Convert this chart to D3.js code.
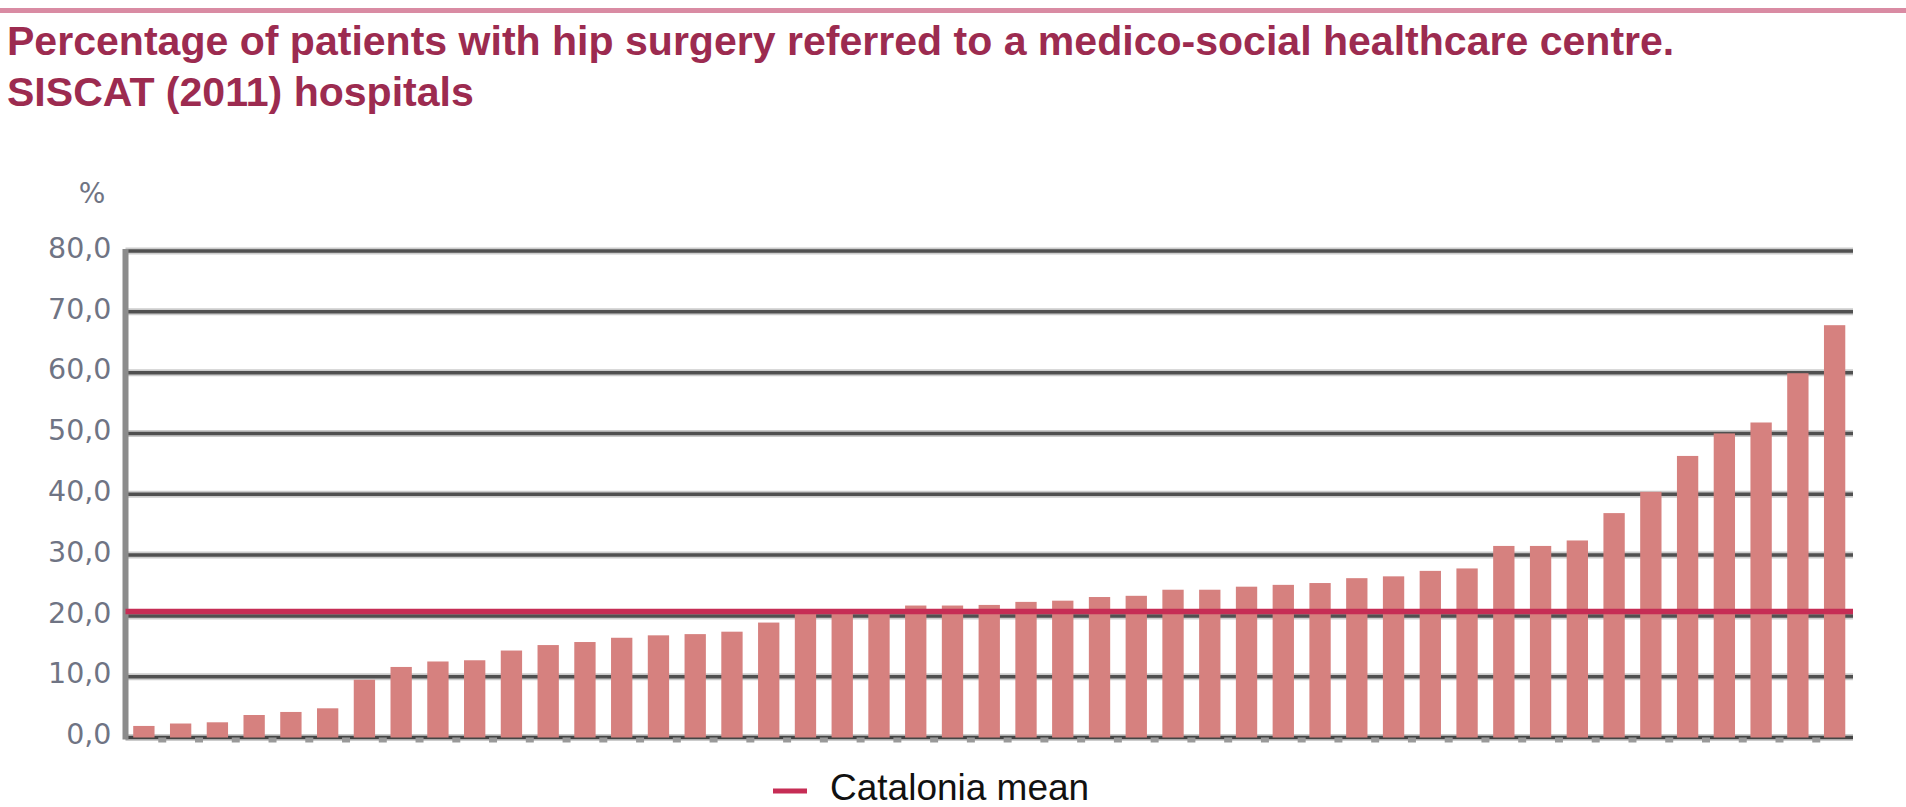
<!DOCTYPE html>
<html>
<head>
<meta charset="utf-8">
<script src="https://cdn.jsdelivr.net/npm/d3@7"></script>
<style>
  body { margin: 0; background: #fff; }
  svg { display: block; }
</style>
</head>
<body>
<div id="chart"></div>
<script>
// hospitals, sorted by share of hip surgery patients referred (%)
var hospitals = d3.range(1, 48).map(function(i) { return "H" + i; });
var referred = [1.9, 2.3, 2.5, 3.7, 4.2, 4.8, 9.5, 11.6, 12.5, 12.7,
                14.3, 15.2, 15.7, 16.4, 16.8, 17.0, 17.4, 18.9, 20.5, 21.0,
                21.0, 21.7, 21.7, 21.8, 22.3, 22.5, 23.1, 23.3, 24.3, 24.3,
                24.8, 25.1, 25.4, 26.2, 26.5, 27.4, 27.8, 31.5, 31.5, 32.4,
                36.9, 40.4, 46.3, 50.0, 51.8, 59.9, 67.8];
var catalonia_mean = 20.7;
var y_ticks = [0, 10, 20, 30, 40, 50, 60, 70, 80];
var y_tick_labels = ["0,0", "10,0", "20,0", "30,0", "40,0", "50,0", "60,0", "70,0", "80,0"];
var title_lines = ["Percentage of patients with hip surgery referred to a medico-social healthcare centre.",
                   "SISCAT (2011) hospitals"];
var legend_label = "Catalonia mean";

var width = 1906;
var height = 807;
var margin = {top: 251, right: 53, bottom: 69.5, left: 125.5};

var svg = d3.select("#chart")
    .append("svg")
    .attr("width", width)
    .attr("height", height);

// top rule + title
svg.append("line")
    .attr("x1", 0).attr("x2", width)
    .attr("y1", 10.5).attr("y2", 10.5)
    .attr("stroke", "#d98ba3")
    .attr("stroke-width", 5);

var title = svg.append("g");
title.selectAll("text")
    .data(title_lines)
    .enter()
    .append("text")
    .attr("x", 0)
    .attr("y", function(d, i) { return 55 + i * 51; })
    .attr("font-family", "'Liberation Sans', Arial, sans-serif")
    .attr("font-weight", "bold")
    .attr("font-size", 40)
    .attr("fill", "#9c2b50")
    .text(function(d) { return d; });
var tw = title.select("text").node().getComputedTextLength();
title.attr("transform", "translate(7,0) scale(" + (1668 / tw) + ",1)");

var x = d3.scaleBand()
    .domain(hospitals)
    .range([margin.left, width - margin.right])
    .paddingInner(0.42)
    .paddingOuter(0.21);
var y = d3.scaleLinear()
    .domain([0, 80])
    .range([height - margin.bottom, margin.top]);

// gridlines (halo + core)
var grid = svg.append("g");
grid.selectAll("line.halo")
    .data(y_ticks)
    .enter()
    .append("line")
    .attr("class", "halo")
    .attr("x1", margin.left).attr("x2", width - margin.right)
    .attr("y1", function(d) { return y(d); })
    .attr("y2", function(d) { return y(d); })
    .attr("stroke", "#cccccc")
    .attr("stroke-width", 7);
grid.selectAll("line.core")
    .data(y_ticks)
    .enter()
    .append("line")
    .attr("class", "core")
    .attr("x1", margin.left).attr("x2", width - margin.right)
    .attr("y1", function(d) { return y(d); })
    .attr("y2", function(d) { return y(d); })
    .attr("stroke", function(d) { return d == 0 ? "#444" : "#505050"; })
    .attr("stroke-width", 3.5);

// small ticks below the base line
svg.append("g")
    .selectAll("line")
    .data(hospitals.slice(1))
    .enter()
    .append("line")
    .attr("x1", function(d) { return x(d) - x.step() * 0.21; })
    .attr("x2", function(d) { return x(d) - x.step() * 0.21; })
    .attr("y1", y(0)).attr("y2", y(0) + 5)
    .attr("stroke", "#999")
    .attr("stroke-width", 8);

// y axis labels
var y_axis = d3.axisLeft(y)
    .tickValues(y_ticks)
    .tickSize(0)
    .tickPadding(14)
    .tickFormat(function(d, i) { return y_tick_labels[i]; });
var gy = svg.append("g")
    .attr("transform", "translate(" + margin.left + ",0)")
    .call(y_axis);
gy.select(".domain").remove();
gy.selectAll("text")
    .attr("font-family", "'DejaVu Sans', sans-serif")
    .attr("font-size", 28.5)
    .attr("dy", "0.22em")
    .attr("fill", "#6f7484");

svg.append("text")
    .attr("x", 92)
    .attr("y", 203)
    .attr("text-anchor", "middle")
    .attr("font-family", "'DejaVu Sans', sans-serif")
    .attr("font-size", 28)
    .attr("fill", "#6f7484")
    .text("%");

// vertical axis line
svg.append("line")
    .attr("x1", margin.left).attr("x2", margin.left)
    .attr("y1", y(80) - 2).attr("y2", y(0) + 2)
    .attr("stroke", "#8c8c8c")
    .attr("stroke-width", 6);

// bars
svg.append("g")
    .selectAll("rect")
    .data(referred)
    .enter()
    .append("rect")
    .attr("x", function(d, i) { return x(hospitals[i]); })
    .attr("width", x.bandwidth())
    .attr("y", function(d) { return y(d); })
    .attr("height", function(d) { return y(0) - y(d); })
    .attr("fill", "#d6817f");

// mean line
svg.append("line")
    .attr("x1", margin.left).attr("x2", width - margin.right)
    .attr("y1", y(catalonia_mean)).attr("y2", y(catalonia_mean))
    .attr("stroke", "#c62d55")
    .attr("stroke-width", 5.5);

// legend
svg.append("line")
    .attr("x1", 773).attr("x2", 807)
    .attr("y1", 791).attr("y2", 791)
    .attr("stroke", "#c62d55")
    .attr("stroke-width", 5);
svg.append("text")
    .attr("x", 830)
    .attr("y", 800)
    .attr("font-family", "'Liberation Sans', Arial, sans-serif")
    .attr("font-size", 37)
    .attr("fill", "#111")
    .text(legend_label);
</script>
</body>
</html>
